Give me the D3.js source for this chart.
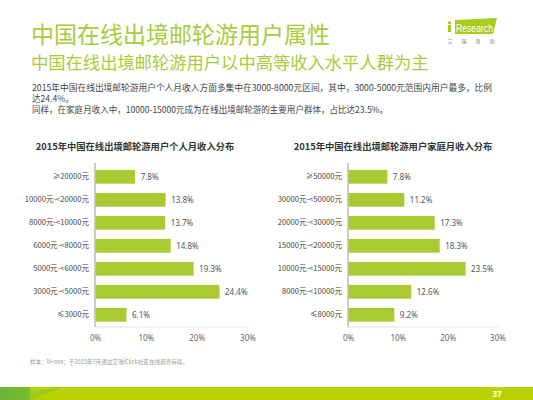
<!DOCTYPE html>
<html>
<head>
<meta charset="utf-8">
<script src="https://cdnjs.cloudflare.com/ajax/libs/d3/7.8.5/d3.min.js"></script>
<style>
  html, body { margin: 0; padding: 0; background: #fff; }
  svg { display: block; font-family: "Noto Sans CJK SC", "Noto Sans", sans-serif; }
</style>
</head>
<body>
<svg id="chart" width="533" height="400"></svg>
<script>
// 数据
const personalCats = ['≥20000元', '10000元-<20000元', '8000元-<10000元', '6000元-<8000元', '5000元-<6000元', '3000元-<5000元', '≤3000元'];
const personalVals = [7.8, 13.8, 13.7, 14.8, 19.3, 24.4, 6.1];
const familyCats = ['≥50000元', '30000元-<50000元', '20000元-<30000元', '15000元-<20000元', '10000元-<15000元', '8000元-<10000元', '≤8000元'];
const familyVals = [7.8, 11.2, 17.3, 18.3, 23.5, 12.6, 9.2];
const xTicks = [0, 10, 20, 30];

const GREEN = '#a9ca33';
const TITLE_GREEN = '#a8cc3a';
const svg = d3.select('#chart');

// 标题
svg.append('text').attr('x', 31).attr('y', 43)
  .attr('font-size', 23).attr('fill', TITLE_GREEN)
  .text('中国在线出境邮轮游用户属性');
svg.append('text').attr('x', 31).attr('y', 69)
  .attr('font-size', 17.3).attr('fill', TITLE_GREEN)
  .text('中国在线出境邮轮游用户以中高等收入水平人群为主');

// 说明文字
const bodyLines = [
  { t: '2015年中国在线出境邮轮游用户个人月收入方面多集中在3000-8000元区间，其中，3000-5000元范围内用户最多，比例', y: 91, w: 460 },
  { t: '达24.4%。', y: 102 },
  { t: '同样，在家庭月收入中，10000-15000元成为在线出境邮轮游的主要用户群体，占比达23.5%。', y: 113, w: 356 }
];
bodyLines.forEach(l => {
  const t = svg.append('text').attr('x', 32).attr('y', l.y)
    .attr('font-size', 8.6).attr('fill', '#444').text(l.t);
  if (l.w) t.attr('textLength', l.w).attr('lengthAdjust', 'spacingAndGlyphs');
});

// Logo
const logo = svg.append('g');
logo.append('path').attr('d', 'M455,20 L497,18 L493,34 L455,34 Z').attr('fill', '#a9cc1f');
logo.append('rect').attr('x', 448).attr('y', 21.5).attr('width', 3).attr('height', 2.6).attr('fill', '#a9cc1f');
logo.append('rect').attr('x', 448).attr('y', 25).attr('width', 3).attr('height', 7).attr('fill', '#a9cc1f');
logo.append('text').attr('x', 456).attr('y', 32)
  .attr('font-family', '"Liberation Sans", Arial, sans-serif')
  .attr('font-size', 11).attr('fill', '#fff').text('Research')
  .attr('textLength', 37).attr('lengthAdjust', 'spacingAndGlyphs');
['艾', '瑞', '咨', '询'].forEach((c, i) => {
  logo.append('text').attr('x', 450 + i * 14).attr('y', 43)
    .attr('text-anchor', 'middle').attr('font-size', 5).attr('fill', '#777').text(c);
});

// 图表
function drawChart(opts) {
  const { cats, vals, x0, x1, title, titleX } = opts;
  const g = svg.append('g');

  g.append('text').attr('x', titleX).attr('y', 150)
    .attr('text-anchor', 'middle').attr('font-size', 9.3).attr('font-weight', 'bold')
    .attr('fill', '#333').text(title);

  const x = d3.scaleLinear().domain([0, 30]).range([x0, x1]);
  const y = d3.scaleBand().domain(cats).range([163, 328.6])
    .paddingInner(0.4).paddingOuter(0.3);

  // 底线
  g.append('line').attr('x1', x0).attr('x2', x1).attr('y1', 327).attr('y2', 327)
    .attr('stroke', '#ddd').attr('stroke-width', 0.8);

  // x 轴
  const xAxis = d3.axisBottom(x).tickValues(xTicks).tickFormat(d => d + '%').tickSize(0).tickPadding(8);
  const xg = g.append('g').attr('transform', 'translate(0,327)').call(xAxis);
  xg.select('.domain').remove();
  xg.selectAll('text').attr('font-size', 8).attr('fill', '#666')
    .attr('font-family', '"Noto Sans", sans-serif');

  // y 轴
  const yAxis = d3.axisLeft(y).tickSize(0).tickPadding(6);
  const yg = g.append('g').attr('transform', `translate(${x0},0)`).call(yAxis);
  yg.select('.domain').attr('stroke', '#999').attr('stroke-width', 1)
    .attr('d', 'M0,163V327');
  yg.selectAll('text').attr('font-size', 7.6).attr('fill', '#444')
    .attr('font-family', '"Noto Sans CJK SC", sans-serif');

  // 柱
  g.selectAll('rect.bar').data(vals).enter().append('rect')
    .attr('class', 'bar')
    .attr('x', x0 + 0.5)
    .attr('y', (d, i) => y(cats[i]))
    .attr('width', d => x(d) - x0)
    .attr('height', y.bandwidth())
    .attr('fill', GREEN);

  g.selectAll('text.val').data(vals).enter().append('text')
    .attr('class', 'val')
    .attr('x', d => x(d) + 6)
    .attr('y', (d, i) => y(cats[i]) + y.bandwidth() / 2 + 3)
    .attr('font-size', 8).attr('fill', '#555')
    .attr('font-family', '"Noto Sans", sans-serif')
    .text(d => d.toFixed(1) + '%');
}

drawChart({ cats: personalCats, vals: personalVals, x0: 95, x1: 247.5,
  title: '2015年中国在线出境邮轮游用户个人月收入分布', titleX: 135 });
drawChart({ cats: familyCats, vals: familyVals, x0: 348, x1: 497.5,
  title: '2015年中国在线出境邮轮游用户家庭月收入分布', titleX: 393 });

// 注释
svg.append('text').attr('x', 30).attr('y', 364)
  .attr('font-size', 5.6).attr('fill', '#999')
  .text('样本：N=999；于2015年7月通过艾瑞iClick社区在线调查获得。');

// 底部色带
const defs = svg.append('defs');
const grad = defs.append('linearGradient').attr('id', 'foot').attr('x1', 0).attr('x2', 1);
grad.append('stop').attr('offset', '0').attr('stop-color', '#68b43c');
grad.append('stop').attr('offset', '1').attr('stop-color', '#8ec422');
svg.append('rect').attr('x', 0).attr('y', 387).attr('width', 533).attr('height', 13).attr('fill', '#b8d200');
svg.append('path').attr('d', 'M0,387 L30,387 L30,392 L62,387 L62,387 L30,400 L0,400 Z').attr('fill', 'url(#foot)');
svg.append('path').attr('d', 'M30,392 L62,387 L30,400 Z').attr('fill', '#9ccb1a');
svg.append('text').attr('x', 497).attr('y', 397)
  .attr('text-anchor', 'middle').attr('font-size', 8).attr('font-weight', 'bold')
  .attr('fill', '#fff').attr('font-family', '"Noto Sans", sans-serif').text('37');
</script>
</body>
</html>
